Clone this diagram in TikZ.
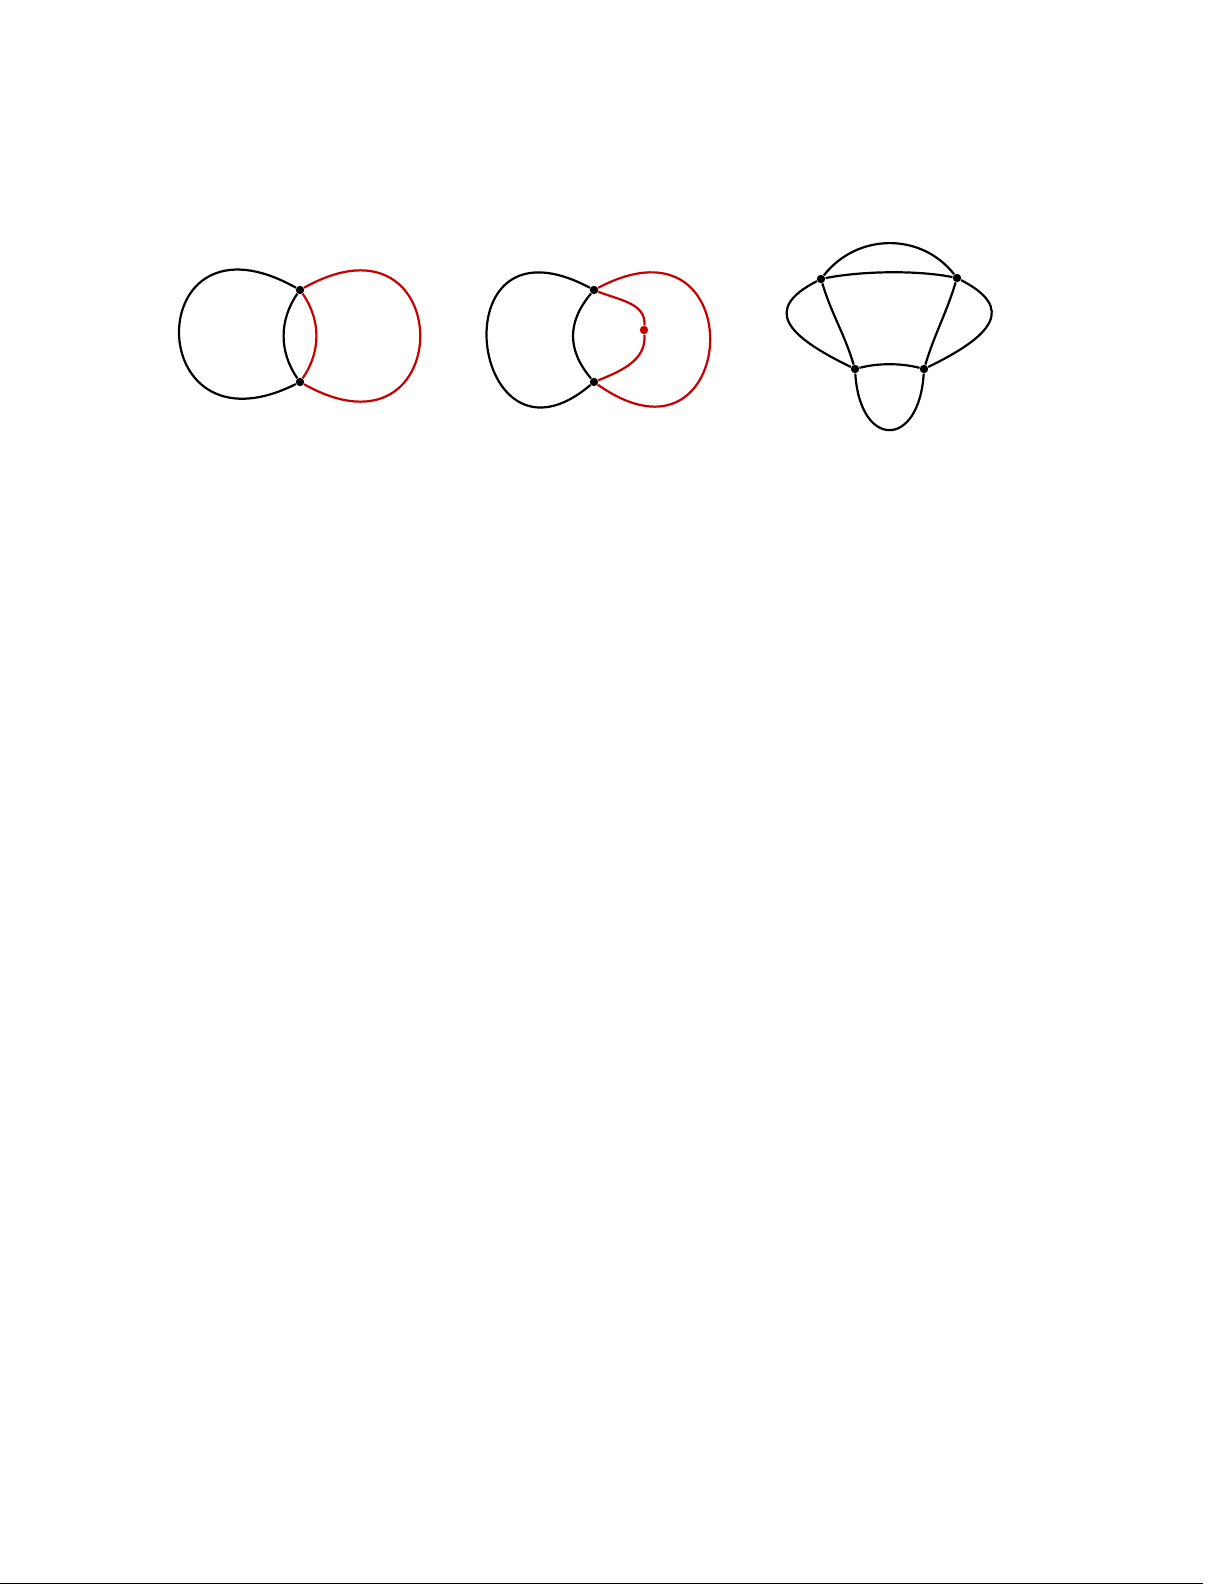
\documentclass[tikz,border=0pt]{standalone}
\definecolor{loopred}{RGB}{200,0,0}
\begin{document}
\begin{tikzpicture}[x=0.5pt,y=0.5pt,
            vtx/.style={circle,fill=black,inner sep=0pt,minimum size=4.2pt},
            curve/.style={line width=1.1pt}]
            \useasboundingbox (0,0) rectangle (1225,-1585);
            \node[vtx] (a1) at (300,-290) {};
            \node[vtx] (b1) at (300,-382) {};
            \draw[curve] (a1) .. controls +(-160,90) and +(-160,-80) .. (b1);
            \draw[curve] (a1) .. controls +(-21,-30) and +(-21,30) .. (b1);
            \draw[curve,loopred] (a1) .. controls +(21,-30) and +(21,30) .. (b1);
            \draw[curve,loopred] (a1) .. controls +(159,89) and +(159,-89) .. (b1);
            \node[vtx] (a2) at (594,-290) {};
            \node[vtx] (b2) at (594,-382) {};
            \node[vtx,fill=loopred] (r2) at (644,-330) {};
            \draw[curve] (a2) .. controls +(-159,85) and +(-124,-105) .. (b2);
            \draw[curve] (a2) .. controls +(-27,-32) and +(-27,32) .. (b2);
            \draw[curve,loopred] (a2) .. controls +(161,85) and +(146,-103) .. (b2);
            \draw[curve,loopred] (a2) to[out=-22,in=85] (r2)
                to[out=-85,in=22] (b2);
            \node[vtx] (a3) at (821,-279) {};
            \node[vtx] (b3) at (957,-278) {};
            \node[vtx] (c3) at (855,-369) {};
            \node[vtx] (d3) at (924,-369) {};
            \draw[curve] (a3) .. controls +(36,46) and +(-36,46) .. (b3);
            \draw[curve] (a3) .. controls +(40,8) and +(-40,8) .. (b3);
            \draw[curve] (a3) .. controls +(-58,-30) and +(-70,34) .. (c3);
            \draw[curve] (b3) .. controls +(58,-30) and +(70,34) .. (d3);
            \draw[curve] (a3) to[out=-73,in=107] (c3);
            \draw[curve] (b3) to[out=-107,in=73] (d3);
            \draw[curve] (c3) .. controls +(23,6) and +(-23,6) .. (d3);
            \draw[curve] (c3) .. controls +(5,-80) and +(-5,-80) .. (d3);
            \draw[line width=0.5pt] (0,-1583.5) -- (1203,-1583.5);
        \end{tikzpicture}
\end{document}
